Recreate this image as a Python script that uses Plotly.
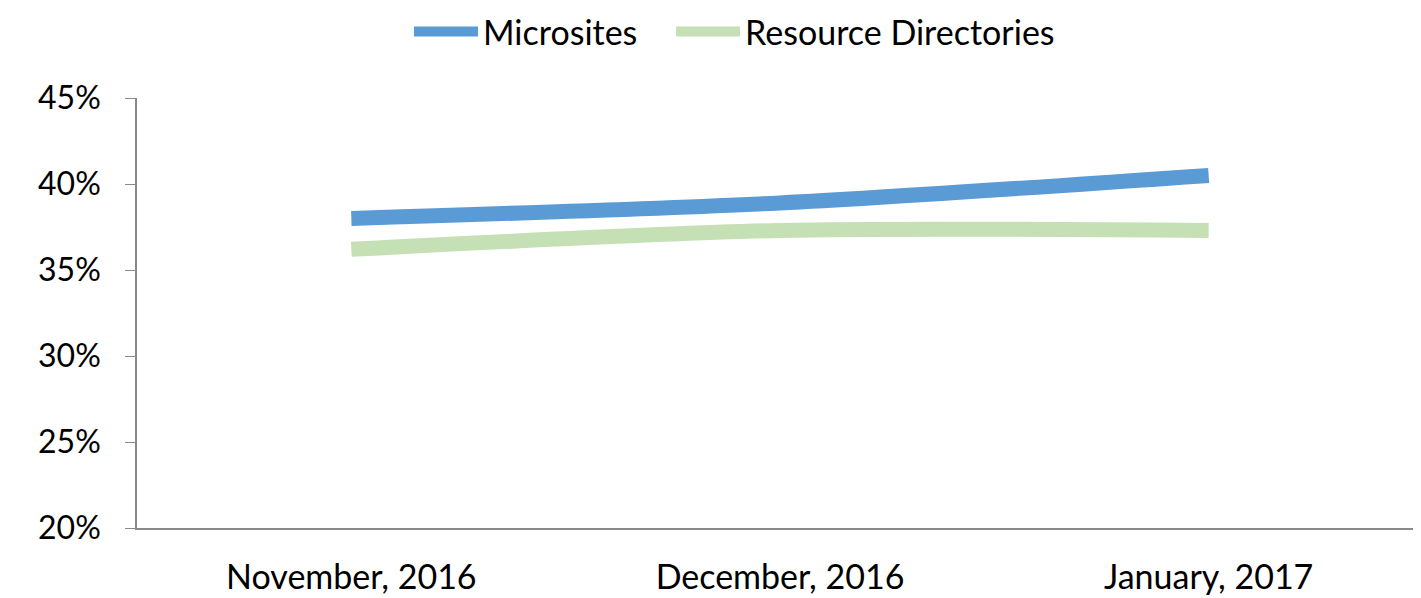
import plotly.graph_objects as go

months = ["November, 2016", "December, 2016", "January, 2017"]
microsites = [0.380, 0.389, 0.405]
resource_dirs = [0.362, 0.373, 0.373]

FONT = "Lato, 'Open Sans', sans-serif"

fig = go.Figure()
fig.add_trace(go.Scatter(x=months, y=microsites, name="Microsites", mode="lines",
                         legend="legend", showlegend=True,
                         line=dict(color="#5B9BD5", width=15, shape="spline", smoothing=0.8)))
fig.add_trace(go.Scatter(x=months, y=resource_dirs, name="Resource Directories", mode="lines",
                         legend="legend2", showlegend=True,
                         line=dict(color="#C5E0B4", width=15, shape="spline", smoothing=0.8)))

leg_common = dict(orientation="h", xanchor="left", y=0.96, yanchor="middle",
                  yref="container", font=dict(size=34), itemwidth=64,
                  bgcolor="rgba(0,0,0,0)")

fig.update_layout(
    width=1421, height=598, showlegend=True,
    margin=dict(l=129, r=6, t=90, b=78),
    paper_bgcolor="white", plot_bgcolor="white",
    font=dict(family=FONT, size=34, color="black"),
    legend=dict(x=0.2115, **leg_common),
    legend2=dict(x=0.4153, **leg_common),
    xaxis=dict(type="category", range=[-0.5, 2.5], showline=True, linecolor="#898989",
               linewidth=1.5, ticks="", showgrid=False, zeroline=False,
               tickfont=dict(size=34), ticklabelstandoff=18),
    yaxis=dict(range=[0.20, 0.45], tickvals=[0.20, 0.25, 0.30, 0.35, 0.40, 0.45],
               tickformat=".0%", showline=True, linecolor="#898989", linewidth=1.5,
               ticks="outside", ticklen=10, tickcolor="#898989", showgrid=False,
               zeroline=False, tickfont=dict(size=32), ticklabelstandoff=18),
)

fig.write_html("out.html")
